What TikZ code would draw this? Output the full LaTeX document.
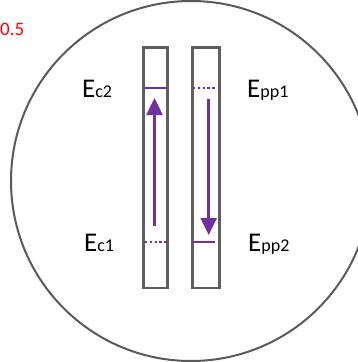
\documentclass[tikz,border=0pt]{standalone}
\usepackage{fontspec}
\setmainfont{Carlito}
\usetikzlibrary{arrows.meta}
\definecolor{ringgray}{RGB}{90,90,90}
\definecolor{boxgray}{RGB}{95,95,95}
\definecolor{lvpurple}{RGB}{112,48,160}
\newcommand\lvsub[1]{{\fontsize{18pt}{18pt}\selectfont #1}}
\begin{document}
\begin{tikzpicture}[x=1pt,y=-1pt,
  ring/.style={circle,draw=ringgray,line width=2pt,minimum size=360pt,inner sep=0pt},
  tube/.style={rectangle,draw=boxgray,line width=2.6pt,inner sep=0pt,minimum height=240.5pt},
  level/.style={draw=lvpurple,line width=2.2pt},
  dotlevel/.style={draw=lvpurple,line width=2.2pt,dash pattern=on 2.4pt off 2.4pt},
  trans/.style={draw=lvpurple,line width=2.5pt,-{Triangle[width=16pt,length=17pt]}},
  lab/.style={inner sep=0pt,anchor=base west,font=\fontsize{27pt}{27pt}\selectfont},
  mark05/.style={inner sep=0pt,anchor=base west,text=red,font=\fontsize{19pt}{19pt}\selectfont}]
\useasboundingbox (0,0) rectangle (358,362);
\node[ring] (ring) at (191,181) {};
\node[tube,minimum width=24pt] (lbox) at (155.5,167.8) {};
\node[tube,minimum width=27pt] (rbox) at (206,167.8) {};
% levels
\coordinate (c2a) at (145,88);  \coordinate (c2b) at (167,88);
\coordinate (c1a) at (145,242); \coordinate (c1b) at (167,242);
\coordinate (p1a) at (193,88);  \coordinate (p1b) at (217,88);
\coordinate (p2a) at (193,242); \coordinate (p2b) at (215,242);
\draw[level] (c2a) -- (c2b);
\draw[dotlevel] (c1a) -- (c1b);
\draw[dotlevel] (p1a) -- (p1b);
\draw[level] (p2a) -- (p2b);
% transitions
\coordinate (ua) at (154.5,226); \coordinate (ub) at (154.5,98);
\coordinate (da) at (208.7,99);  \coordinate (db) at (208.7,235);
\draw[trans] (ua) -- (ub);
\draw[trans] (da) -- (db);
% labels
\node[lab] (ec2) at (82,97) {E\lvsub{c2}};
\node[lab] (ec1) at (84,251) {E\lvsub{c1}};
\node[lab] (epp1) at (247,97) {E\lvsub{pp1}};
\node[lab] (epp2) at (248,251) {E\lvsub{pp2}};
\node[mark05] (half) at (0,35) {0.5};
\end{tikzpicture}
\end{document}
